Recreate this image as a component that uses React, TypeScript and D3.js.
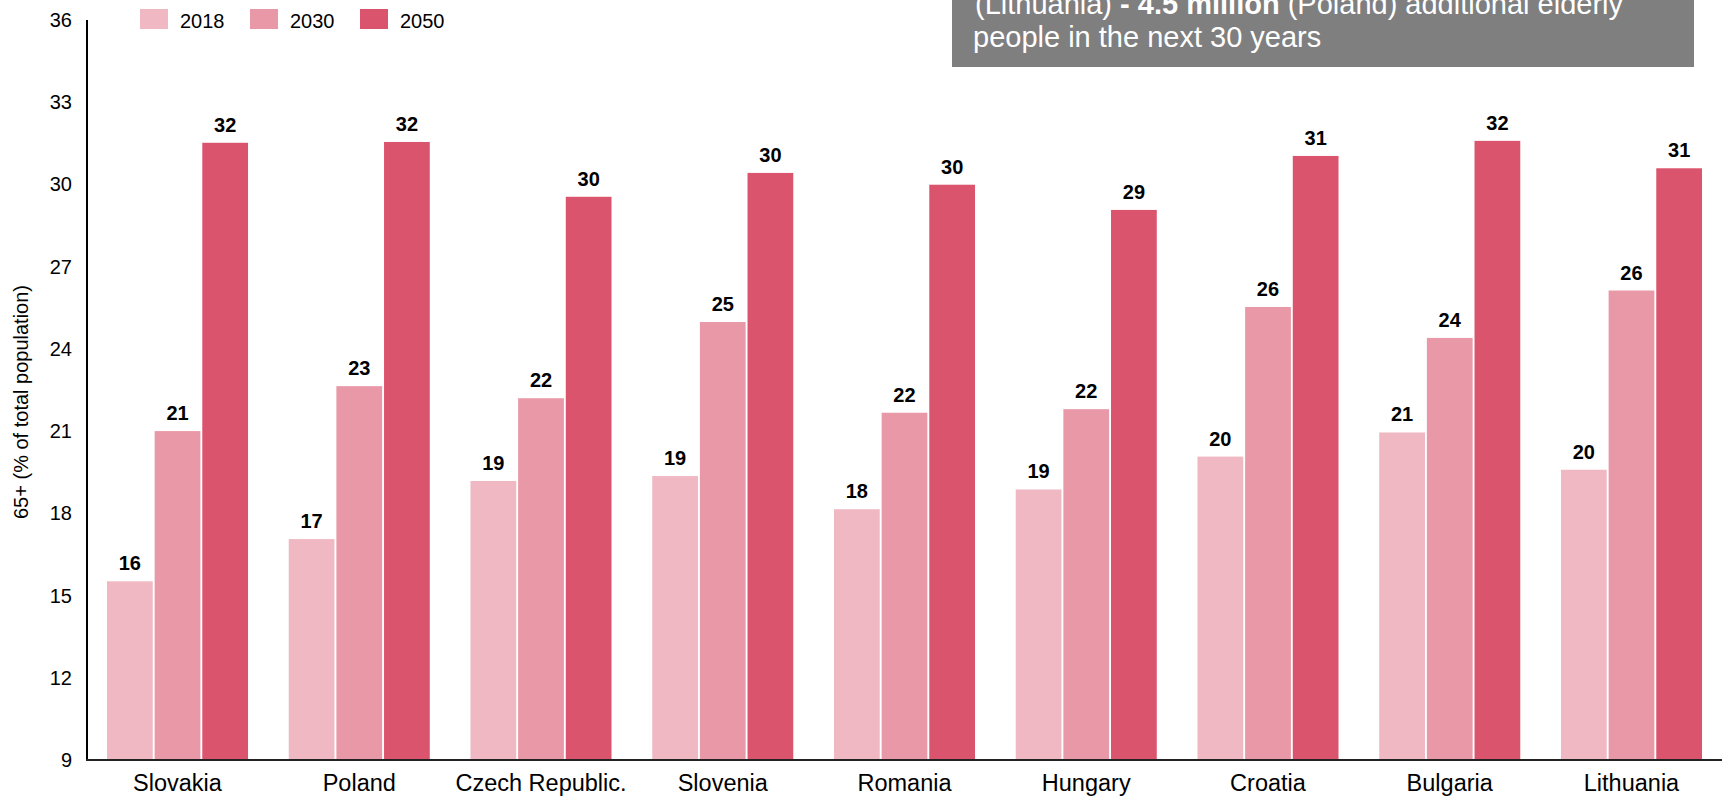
import React from "react";
import * as d3 from "d3";

// Share of population aged 65+ by country, 2018 vs. projections
const countries = [
  "Slovakia",
  "Poland",
  "Czech Republic.",
  "Slovenia",
  "Romania",
  "Hungary",
  "Croatia",
  "Bulgaria",
  "Lithuania",
];
const years = ["2018", "2030", "2050"];
const share2018 = [15.52, 17.06, 19.18, 19.36, 18.15, 18.87, 20.07, 20.95, 19.59];
const share2030 = [21.0, 22.64, 22.2, 24.98, 21.67, 21.8, 25.53, 24.4, 26.13];
const share2050 = [31.52, 31.55, 29.55, 30.42, 29.99, 29.07, 31.04, 31.59, 30.59];
const yTicks = [9, 12, 15, 18, 21, 24, 27, 30, 33, 36];
const yearColors = ["#f0b8c3", "#e898a6", "#db546d"];

const W = 1725;
const H = 796;
const FONT = "'Liberation Sans', Arial, Helvetica, sans-serif";

export default function App() {
  const series = [share2018, share2030, share2050];

  const x0 = d3
    .scaleBand<string>()
    .domain(countries)
    .range([87, 1722])
    .paddingInner(0.224)
    .paddingOuter(0.11);
  const x1 = d3
    .scaleBand<string>()
    .domain(years)
    .range([0, x0.bandwidth()])
    .paddingInner(0.04);
  const y = d3.scaleLinear().domain([9, 36]).range([760, 20]);
  const color = d3.scaleOrdinal<string, string>().domain(years).range(yearColors);

  return (
    <svg
      width={W}
      height={H}
      style={{ position: "absolute", left: 0, top: 0, background: "#fff" }}
      fontFamily={FONT}
    >
      {/* bars and value labels */}
      {countries.map((c, ci) => (
        <g key={c} transform={`translate(${x0(c)},0)`}>
          {years.map((yr, yi) => {
            const v = series[yi][ci];
            const bx = x1(yr) as number;
            return (
              <g key={yr}>
                <rect
                  x={bx}
                  y={y(v)}
                  width={x1.bandwidth()}
                  height={y(9) - y(v)}
                  fill={color(yr)}
                />
                <text
                  x={bx + x1.bandwidth() / 2}
                  y={y(v) - 11}
                  textAnchor="middle"
                  fontSize={20}
                  fontWeight="bold"
                  fill="#000"
                >
                  {Math.round(v)}
                </text>
              </g>
            );
          })}
          <text
            x={x0.bandwidth() / 2}
            y={791}
            textAnchor="middle"
            fontSize={23.5}
            fill="#000"
          >
            {c}
          </text>
        </g>
      ))}

      {/* axes */}
      <line x1={87} x2={87} y1={y(36)} y2={y(9)} stroke="#000" strokeWidth={2} />
      <line x1={86} x2={1722} y1={y(9)} y2={y(9)} stroke="#222" strokeWidth={2} />
      {yTicks.map((t) => (
        <text
          key={t}
          x={72}
          y={y(t)}
          dy="0.35em"
          textAnchor="end"
          fontSize={20}
          fill="#000"
        >
          {t}
        </text>
      ))}
      <text
        transform={`translate(28,402) rotate(-90)`}
        textAnchor="middle"
        fontSize={20}
        fill="#000"
      >
        65+ (% of total population)
      </text>

      {/* legend */}
      {years.map((yr, i) => (
        <g key={yr} transform={`translate(${140 + i * 110},9)`}>
          <rect width={28} height={20} fill={color(yr)} />
          <text x={40} y={19} fontSize={20} fill="#000">
            {yr}
          </text>
        </g>
      ))}

      {/* annotation box */}
      <rect x={952} y={-20} width={742} height={87} fill="#7f7f7f" />
      <text x={975} y={14} fontSize={29} fill="#fff">
        <tspan>(Lithuania) </tspan>
        <tspan fontWeight="bold">- 4.5 million</tspan>
        <tspan> (Poland) additional elderly</tspan>
      </text>
      <text x={973} y={47} fontSize={29} fill="#fff">
        people in the next 30 years
      </text>
    </svg>
  );
}
